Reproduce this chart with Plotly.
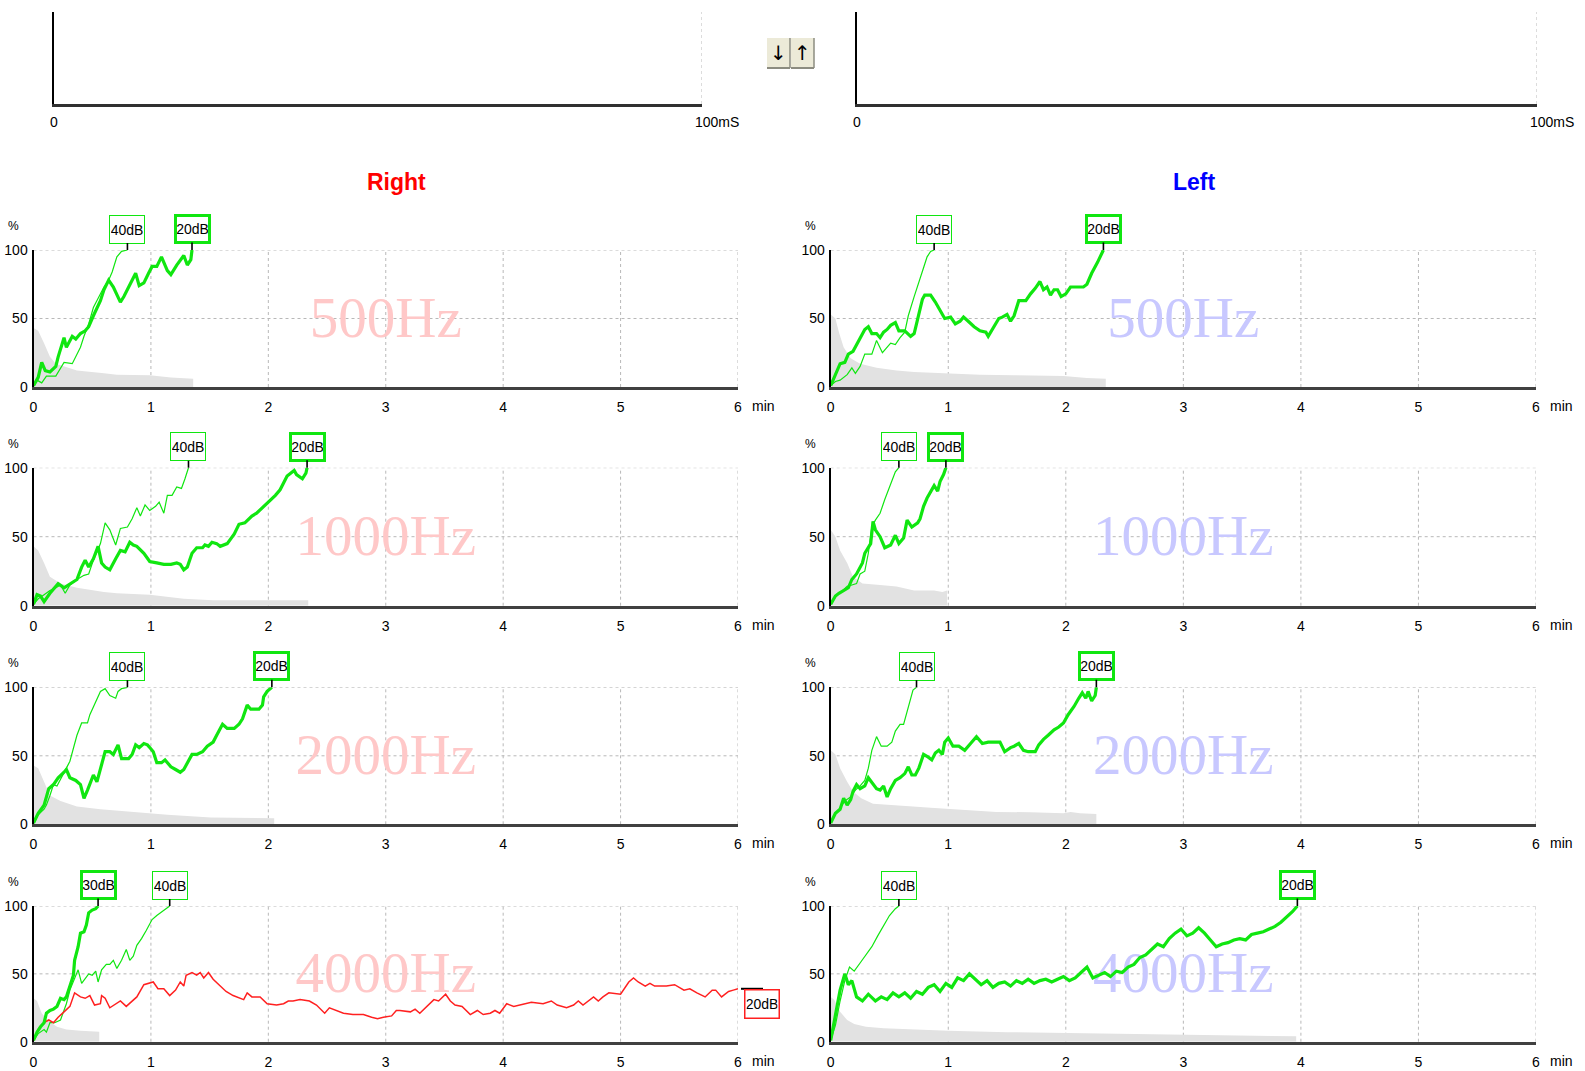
import plotly.graph_objects as go

W, H = 1585, 1071

# ---------------- axis ticks ----------------
X_TICKS = [0, 1, 2, 3, 4, 5, 6]
Y_TICKS = [0, 50, 100]

# ---------------- Right ear ----------------
R500_t20 = [0, 0.04, 0.07, 0.10, 0.14, 0.19, 0.21, 0.26, 0.28, 0.33, 0.36, 0.40, 0.44, 0.47, 0.51, 0.54, 0.57, 0.60, 0.64, 0.68,
            0.74, 0.77, 0.81, 0.87, 0.90, 0.94, 0.98, 1.01, 1.05, 1.09, 1.14, 1.17, 1.22, 1.28, 1.31, 1.34, 1.35]
R500_p20 = [1, 7, 18, 12, 11, 15, 22, 36, 29, 37, 35, 39, 41, 44, 52, 57, 63, 71, 78, 73,
            62, 66, 73, 83, 74, 76, 83, 88, 88, 95, 85, 82, 89, 96, 89, 93, 100]
R500_t40 = [0, 0.03, 0.07, 0.11, 0.19, 0.21, 0.26, 0.33, 0.36, 0.40, 0.43, 0.47, 0.51, 0.54, 0.57, 0.60, 0.64, 0.67, 0.71, 0.75, 0.80]
R500_p40 = [1, 5, 3, 8, 8, 11, 18, 17, 22, 29, 37, 46, 58, 63, 68, 73, 78, 84, 95, 99, 100]
R500_bg_t = [0, 0.04, 0.09, 0.14, 0.19, 0.26, 0.37, 0.60, 0.71, 0.99, 1.17, 1.36]
R500_bg_p = [43, 41, 32, 22, 17, 15, 12, 10, 9, 8.5, 7, 6]

R1000_t20 = [0, 0.03, 0.06, 0.09, 0.14, 0.21, 0.26, 0.31, 0.37, 0.41, 0.44, 0.47, 0.51, 0.55, 0.58, 0.61, 0.65, 0.70, 0.74, 0.78,
             0.82, 0.85, 0.88, 0.94, 0.99, 1.05, 1.11, 1.17, 1.22, 1.25, 1.28, 1.31, 1.35, 1.39, 1.44, 1.46, 1.49, 1.52, 1.56, 1.59,
             1.65, 1.71, 1.75, 1.80, 1.86, 1.90, 1.95, 1.97, 2.02, 2.06, 2.10, 2.13, 2.16, 2.19, 2.22, 2.24, 2.29, 2.32, 2.33]
R1000_p20 = [1, 8, 7, 3, 9, 16, 13, 16, 19, 28, 33, 28, 34, 43, 31, 28, 26, 34, 40, 39,
             46, 44, 43, 38, 32, 31, 30, 30, 31, 30, 26, 28, 38, 42, 42, 44, 43, 46, 45, 43,
             45, 52, 59, 60, 65, 67, 71, 73, 77, 80, 84, 89, 94, 96, 98, 95, 92, 96, 100]
R1000_t40 = [0, 0.04, 0.09, 0.14, 0.19, 0.23, 0.27, 0.31, 0.37, 0.43, 0.47, 0.51, 0.57, 0.61, 0.65, 0.70, 0.74, 0.80, 0.84, 0.88,
             0.91, 0.95, 0.99, 1.04, 1.07, 1.11, 1.14, 1.18, 1.22, 1.26, 1.29, 1.32]
R1000_p40 = [1, 5, 8, 11, 13, 15, 9, 15, 19, 22, 23, 33, 45, 60, 55, 44, 56, 57, 63, 71,
             65, 73, 69, 72, 75, 67, 80, 80, 86, 85, 92, 100]
R1000_bg_t = [0, 0.04, 0.09, 0.14, 0.23, 0.37, 0.60, 0.71, 0.99, 1.28, 1.53, 2.34]
R1000_bg_p = [43, 40, 31, 21, 16, 13, 10, 9, 8, 5, 4, 4]

R2000_t20 = [0, 0.04, 0.09, 0.13, 0.17, 0.21, 0.26, 0.28, 0.31, 0.36, 0.40, 0.43, 0.46, 0.48, 0.51, 0.54, 0.57, 0.61, 0.65, 0.68,
             0.72, 0.75, 0.81, 0.84, 0.87, 0.90, 0.94, 0.97, 0.99, 1.02, 1.05, 1.09, 1.12, 1.17, 1.21, 1.25, 1.28, 1.32, 1.35, 1.39,
             1.44, 1.48, 1.53, 1.56, 1.61, 1.65, 1.71, 1.75, 1.78, 1.82, 1.85, 1.92, 1.95, 1.96, 1.99, 2.03]
R2000_p20 = [1, 8, 14, 26, 29, 34, 38, 40, 34, 32, 29, 19, 25, 30, 36, 31, 41, 53, 53, 51,
             58, 48, 48, 51, 58, 56, 59, 58, 56, 53, 45, 45, 47, 42, 40, 38, 40, 46, 51, 51,
             53, 57, 60, 65, 73, 70, 70, 73, 77, 87, 84, 84, 87, 93, 97, 100]
R2000_t40 = [0, 0.04, 0.09, 0.11, 0.14, 0.17, 0.20, 0.24, 0.28, 0.31, 0.34, 0.37, 0.41, 0.46, 0.48, 0.53, 0.57, 0.61, 0.65, 0.70,
             0.72, 0.75, 0.80]
R2000_p40 = [1, 7, 11, 14, 21, 29, 28, 34, 41, 46, 56, 65, 74, 74, 80, 90, 97, 99, 94, 92, 97, 99, 100]
R2000_bg_t = [0, 0.04, 0.09, 0.14, 0.23, 0.37, 0.57, 0.85, 1.14, 1.51, 2.05]
R2000_bg_p = [43, 41, 31, 21, 17, 13, 11, 9, 7, 5, 4.4]

R4000_t30 = [0, 0.03, 0.06, 0.09, 0.11, 0.14, 0.17, 0.20, 0.23, 0.26, 0.28, 0.31, 0.34, 0.35, 0.38, 0.40, 0.43, 0.45, 0.47, 0.50,
             0.53, 0.55]
R4000_p30 = [1, 7, 11, 14, 21, 23, 24, 26, 32, 31, 33, 41, 49, 60, 70, 80, 81, 86, 95, 97, 98, 100]
R4000_t40 = [0, 0.04, 0.09, 0.11, 0.14, 0.18, 0.23, 0.26, 0.28, 0.31, 0.34, 0.38, 0.41, 0.44, 0.47, 0.50, 0.53, 0.55, 0.58, 0.62,
             0.65, 0.68, 0.71, 0.75, 0.79, 0.82, 0.85, 0.88, 0.92, 0.96, 1.01, 1.05, 1.11, 1.16]
R4000_p40 = [1, 6, 9, 7, 14, 14, 16, 23, 28, 38, 44, 53, 43, 47, 50, 49, 52, 44, 53, 57,
             57, 60, 54, 60, 68, 60, 63, 71, 76, 82, 90, 93, 97, 100]
R4000_t20 = [0, 0.04, 0.09, 0.13, 0.17, 0.21, 0.26, 0.31, 0.35, 0.40, 0.44, 0.48, 0.52, 0.57, 0.58, 0.61, 0.65, 0.70, 0.74, 0.79,
             0.84, 0.88, 0.94, 0.98, 1.02, 1.06, 1.11, 1.16, 1.21, 1.25, 1.28, 1.30, 1.35, 1.39, 1.42, 1.45, 1.49, 1.53, 1.59, 1.64,
             1.70, 1.73, 1.79, 1.82, 1.86, 1.93, 1.99, 2.07, 2.13, 2.17, 2.21, 2.27, 2.35, 2.41, 2.48, 2.52, 2.58, 2.64, 2.72, 2.81,
             2.88, 2.93, 2.98, 3.05, 3.09, 3.12, 3.21, 3.25, 3.29, 3.35, 3.41, 3.45, 3.51, 3.55, 3.59, 3.65, 3.72, 3.78, 3.83, 3.89,
             3.93, 3.97, 4.03, 4.09, 4.15, 4.24, 4.34, 4.41, 4.46, 4.54, 4.60, 4.64, 4.68, 4.77, 4.81, 4.85, 4.90, 5.00, 5.07, 5.11,
             5.15, 5.21, 5.25, 5.29, 5.39, 5.46, 5.54, 5.59, 5.65, 5.72, 5.78, 5.81, 5.86, 5.92, 5.96, 6.00]
R4000_p20 = [1, 9, 14, 16, 14, 18, 22, 26, 36, 33, 32, 34, 27, 28, 34, 32, 25, 28, 30, 26,
             30, 33, 42, 43, 44, 39, 39, 34, 38, 44, 41, 49, 51, 49, 51, 47, 51, 46, 41, 37,
             34, 33, 31, 36, 33, 33, 28, 27, 28, 30, 30, 31, 30, 27, 21, 25, 23, 21, 20, 20,
             18, 17, 18, 19, 23, 23, 22, 24, 21, 26, 31, 30, 35, 30, 27, 26, 20, 23, 20, 21,
             23, 21, 28, 26, 27, 29, 28, 30, 27, 25, 27, 30, 27, 33, 30, 33, 36, 35, 44, 47,
             44, 41, 43, 41, 41, 42, 38, 39, 36, 33, 38, 38, 33, 37, 38, 39]
R4000_bg_t = [0, 0.03, 0.07, 0.13, 0.20, 0.28, 0.40, 0.56]
R4000_bg_p = [32, 30, 21, 15, 11, 9, 8, 7.4]

# ---------------- Left ear ----------------
L500_t20 = [0, 0.04, 0.08, 0.12, 0.15, 0.19, 0.25, 0.29, 0.32, 0.35, 0.39, 0.42, 0.45, 0.48, 0.51, 0.55, 0.58, 0.63, 0.68, 0.71,
            0.73, 0.78, 0.80, 0.85, 0.89, 0.93, 0.97, 1.02, 1.06, 1.10, 1.13, 1.17, 1.22, 1.27, 1.32, 1.34, 1.39, 1.43, 1.46, 1.50,
            1.53, 1.56, 1.60, 1.66, 1.70, 1.74, 1.78, 1.81, 1.84, 1.87, 1.90, 1.93, 1.96, 2.00, 2.04, 2.15, 2.18, 2.22, 2.27, 2.30,
            2.32]
L500_p20 = [1, 9, 17, 18, 24, 26, 35, 42, 44, 39, 39, 36, 40, 42, 45, 47, 41, 41, 37, 39,
            46, 64, 67, 67, 62, 56, 50, 51, 46, 48, 51, 48, 44, 41, 40, 37, 44, 50, 51, 53,
            48, 52, 63, 63, 68, 72, 77, 71, 73, 67, 71, 71, 66, 68, 73, 73, 75, 83, 91, 96,
            100]
L500_t40 = [0, 0.04, 0.08, 0.14, 0.18, 0.21, 0.25, 0.29, 0.35, 0.39, 0.44, 0.48, 0.51, 0.55, 0.59, 0.63, 0.66, 0.71, 0.73, 0.76,
            0.79, 0.82, 0.85, 0.88]
L500_p40 = [1, 4, 5, 9, 14, 10, 15, 24, 24, 34, 25, 29, 32, 31, 36, 40, 52, 66, 71, 78, 87, 95, 99, 100]
L500_bg_t = [0, 0.04, 0.07, 0.11, 0.17, 0.25, 0.39, 0.56, 0.71, 0.99, 1.27, 1.56, 1.98, 2.18, 2.34]
L500_bg_p = [53, 50, 40, 29, 21, 17, 14, 12, 11, 10, 9, 8.6, 8, 6.6, 6]

L1000_t20 = [0, 0.04, 0.07, 0.11, 0.15, 0.18, 0.22, 0.27, 0.29, 0.34, 0.36, 0.38, 0.42, 0.46, 0.51, 0.55, 0.58, 0.62, 0.65, 0.69,
             0.74, 0.76, 0.79, 0.82, 0.85, 0.88, 0.91, 0.93, 0.96, 0.98]
L1000_p20 = [1, 7, 9, 11, 13, 19, 23, 31, 38, 45, 61, 55, 50, 42, 44, 51, 45, 49, 62, 57,
             60, 63, 72, 78, 83, 87, 83, 90, 95, 100]
L1000_t40 = [0, 0.05, 0.09, 0.14, 0.18, 0.22, 0.25, 0.29, 0.32, 0.35, 0.38, 0.42, 0.46, 0.51, 0.55, 0.58]
L1000_p40 = [1, 8, 10, 14, 15, 16, 23, 25, 38, 57, 62, 67, 77, 89, 97, 100]
L1000_bg_t = [0, 0.04, 0.08, 0.14, 0.19, 0.27, 0.42, 0.56, 0.71, 0.88, 0.95, 0.99]
L1000_bg_p = [55, 50, 40, 31, 21, 16, 15, 14, 11, 11, 10, 11]

L2000_t20 = [0, 0.04, 0.08, 0.11, 0.14, 0.17, 0.19, 0.22, 0.25, 0.29, 0.32, 0.36, 0.39, 0.42, 0.45, 0.48, 0.51, 0.55, 0.59, 0.63,
             0.66, 0.69, 0.72, 0.75, 0.79, 0.83, 0.86, 0.89, 0.92, 0.95, 0.97, 1.00, 1.04, 1.09, 1.14, 1.19, 1.24, 1.29, 1.34, 1.44,
             1.48, 1.53, 1.56, 1.60, 1.64, 1.68, 1.74, 1.77, 1.81, 1.85, 1.90, 1.94, 1.98, 2.02, 2.07, 2.11, 2.14, 2.17, 2.19, 2.22,
             2.25, 2.26]
L2000_p20 = [1, 8, 11, 19, 14, 18, 24, 29, 26, 28, 34, 29, 26, 25, 28, 20, 26, 32, 34, 37,
             42, 36, 36, 41, 51, 49, 47, 52, 54, 51, 60, 63, 57, 57, 54, 59, 64, 59, 60, 60,
             53, 56, 57, 59, 54, 53, 53, 58, 62, 65, 69, 71, 74, 80, 86, 92, 96, 92, 97, 90,
             94, 100]
L2000_t40 = [0, 0.04, 0.08, 0.12, 0.17, 0.21, 0.25, 0.29, 0.32, 0.35, 0.39, 0.43, 0.48, 0.52, 0.55, 0.59, 0.62, 0.65, 0.68, 0.70,
             0.73]
L2000_p40 = [1, 8, 12, 17, 20, 25, 28, 32, 41, 54, 64, 57, 57, 60, 68, 73, 73, 82, 91, 98, 100]
L2000_bg_t = [0, 0.04, 0.08, 0.14, 0.19, 0.26, 0.36, 0.56, 0.70, 0.85, 1.13, 1.41, 1.70, 1.98, 2.04, 2.12, 2.26]
L2000_bg_p = [54, 51, 41, 31, 24, 19, 15, 14, 13, 12, 10.5, 9, 8.8, 8, 9, 8, 7.5]

L4000_t20 = [0, 0.04, 0.08, 0.12, 0.15, 0.18, 0.22, 0.27, 0.32, 0.38, 0.43, 0.48, 0.53, 0.58, 0.63, 0.68, 0.73, 0.78, 0.83, 0.88,
             0.93, 0.98, 1.03, 1.08, 1.13, 1.18, 1.23, 1.28, 1.33, 1.38, 1.43, 1.48, 1.53, 1.58, 1.63, 1.68, 1.73, 1.78, 1.83, 1.88,
             1.93, 1.98, 2.03, 2.08, 2.13, 2.18, 2.23, 2.28, 2.33, 2.38, 2.43, 2.48, 2.53, 2.58, 2.63, 2.68, 2.73, 2.78, 2.83, 2.88,
             2.93, 2.98, 3.03, 3.08, 3.13, 3.18, 3.23, 3.28, 3.33, 3.38, 3.43, 3.48, 3.53, 3.58, 3.63, 3.68, 3.73, 3.78, 3.83, 3.88,
             3.93, 3.97]
L4000_p20 = [1, 20, 38, 50, 42, 45, 33, 30, 35, 30, 33, 31, 36, 33, 36, 32, 37, 35, 40, 42,
             37, 43, 40, 47, 45, 50, 46, 42, 45, 40, 43, 44, 41, 45, 43, 46, 43, 45, 46, 44,
             46, 48, 45, 47, 51, 55, 47, 49, 51, 48, 52, 51, 55, 57, 62, 64, 68, 72, 70, 76,
             80, 83, 78, 80, 84, 80, 75, 70, 72, 73, 75, 76, 75, 79, 80, 81, 83, 85, 88, 92,
             96, 100]
L4000_t40 = [0, 0.04, 0.08, 0.12, 0.16, 0.20, 0.25, 0.30, 0.35, 0.40, 0.45, 0.50, 0.55, 0.58]
L4000_p40 = [1, 12, 30, 45, 55, 52, 58, 64, 70, 78, 86, 93, 98, 100]
L4000_bg_t = [0, 0.03, 0.08, 0.14, 0.20, 0.30, 0.45, 0.70, 1.00, 1.50, 2.00, 2.50, 3.00, 3.50, 3.96]
L4000_bg_p = [33, 31, 22, 16, 13, 11, 10, 9, 8, 7, 6.5, 6, 5, 4.5, 4]

PANELS = [
    dict(row=0, col=0, name="500Hz", grey=(R500_bg_t, R500_bg_p),
         curves=[(R500_t40, R500_p40, "40dB", "thin"), (R500_t20, R500_p20, "20dB", "thick")]),
    dict(row=1, col=0, name="1000Hz", grey=(R1000_bg_t, R1000_bg_p),
         curves=[(R1000_t40, R1000_p40, "40dB", "thin"), (R1000_t20, R1000_p20, "20dB", "thick")]),
    dict(row=2, col=0, name="2000Hz", grey=(R2000_bg_t, R2000_bg_p),
         curves=[(R2000_t40, R2000_p40, "40dB", "thin"), (R2000_t20, R2000_p20, "20dB", "thick")]),
    dict(row=3, col=0, name="4000Hz", grey=(R4000_bg_t, R4000_bg_p),
         curves=[(R4000_t40, R4000_p40, "40dB", "thin"), (R4000_t20, R4000_p20, "20dB", "red"),
                 (R4000_t30, R4000_p30, "30dB", "thick")]),
    dict(row=0, col=1, name="500Hz", grey=(L500_bg_t, L500_bg_p),
         curves=[(L500_t40, L500_p40, "40dB", "thin"), (L500_t20, L500_p20, "20dB", "thick")]),
    dict(row=1, col=1, name="1000Hz", grey=(L1000_bg_t, L1000_bg_p),
         curves=[(L1000_t40, L1000_p40, "40dB", "thin"), (L1000_t20, L1000_p20, "20dB", "thick")]),
    dict(row=2, col=1, name="2000Hz", grey=(L2000_bg_t, L2000_bg_p),
         curves=[(L2000_t40, L2000_p40, "40dB", "thin"), (L2000_t20, L2000_p20, "20dB", "thick")]),
    dict(row=3, col=1, name="4000Hz", grey=(L4000_bg_t, L4000_bg_p),
         curves=[(L4000_t40, L4000_p40, "40dB", "thin"), (L4000_t20, L4000_p20, "20dB", "thick")]),
]

# ---------------- page geometry (pixels) ----------------
COL_X = [(33.5, 738.0), (830.7, 1536.0)]
ROW_Y = [(250.0, 387.0), (467.7, 605.7), (687.3, 824.3), (906.0, 1041.7)]
TOP_X = [(54.0, 702.0), (857.0, 1537.0)]
TOP_Y = (12.0, 104.0)

GREEN = "#10e610"
RED = "#ff2020"
GREY_FILL = "#e2e2e2"
GRID = "#b8b8b8"
WATERMARK = ["#ffc8c8", "#c8c8ff"]
SANS = "Liberation Sans, Arial, sans-serif"
SERIF = "Liberation Serif, Times New Roman, serif"
TICK_FONT = dict(family=SANS, size=14, color="black")
LABEL_FONT = dict(family=SANS, size=14, color="black")


def xdom(a, b):
    return [a / W, b / W]


def ydom(top, bottom):
    return [1 - bottom / H, 1 - top / H]


def sfx(k):
    return "" if k == 1 else str(k)


def note(**kw):
    base = dict(showarrow=False, xanchor="center", yanchor="middle")
    base.update(kw)
    return base


fig = go.Figure()
layout_axes = {}
shapes = []
annotations = []

for k, pnl in enumerate(PANELS, start=1):
    s = sfx(k)
    xr, yr = "x" + s, "y" + s
    r, c = pnl["row"], pnl["col"]
    layout_axes["xaxis" + s] = dict(
        domain=xdom(*COL_X[c]), anchor=yr, range=[0, 6], tickmode="array", tickvals=X_TICKS,
        ticktext=[str(v) for v in X_TICKS], showgrid=False, zeroline=False, showline=True,
        linecolor="#404040", linewidth=3, ticks="", ticklabelstandoff=5, tickfont=TICK_FONT,
        automargin=False, fixedrange=True)
    layout_axes["yaxis" + s] = dict(
        domain=ydom(*ROW_Y[r]), anchor=xr, range=[0, 100], tickmode="array", tickvals=Y_TICKS,
        ticktext=[str(v) for v in Y_TICKS], showgrid=False, zeroline=False, showline=True,
        linecolor="black", linewidth=2, ticks="", ticklabelstandoff=1, tickfont=TICK_FONT,
        automargin=False, fixedrange=True)

    # dotted grid
    for xv in X_TICKS[1:]:
        shapes.append(dict(type="line", layer="below", xref=xr, yref=yr + " domain", x0=xv, x1=xv, y0=0, y1=1,
                           line=dict(color=GRID, width=1, dash="dot")))
    for yv in Y_TICKS[1:]:
        shapes.append(dict(type="line", layer="below", xref=xr + " domain", yref=yr, x0=0, x1=1, y0=yv, y1=yv,
                           line=dict(color=GRID, width=1, dash="dot")))

    # grey background distribution
    gt, gp = pnl["grey"]
    fig.add_trace(go.Scatter(x=gt, y=gp, xaxis=xr, yaxis=yr, mode="lines", fill="tozeroy",
                             fillcolor=GREY_FILL, line=dict(width=0, color=GREY_FILL), hoverinfo="skip"))

    # frequency watermark
    fig.add_trace(go.Scatter(x=[3], y=[47], xaxis=xr, yaxis=yr, mode="text", text=[pnl["name"]],
                             textposition="middle center", cliponaxis=False,
                             textfont=dict(family=SERIF, size=57, color=WATERMARK[c]), hoverinfo="skip"))

    for t, p, label, style in pnl["curves"]:
        if style == "red":
            fig.add_trace(go.Scatter(x=t, y=p, xaxis=xr, yaxis=yr, mode="lines",
                                     line=dict(color=RED, width=1.5), hoverinfo="skip"))
            # label hanging off the right end of the trace
            x_end = COL_X[c][1]
            dom = ydom(*ROW_Y[r])
            y_end = dom[0] + (dom[1] - dom[0]) * p[-1] / 100.0
            shapes.append(dict(type="line", xref="paper", yref="paper", x0=(x_end + 3) / W, x1=(x_end + 25) / W,
                               y0=y_end, y1=y_end, line=dict(color="black", width=2)))
            annotations.append(note(xref=xr, yref=yr, x=t[-1], y=p[-1], text=label,
                                    xanchor="left", yanchor="top", xshift=6, yshift=0,
                                    font=LABEL_FONT, bgcolor="white", bordercolor=RED, borderwidth=1.5,
                                    borderpad=1, width=31, height=25))
        else:
            thick = style == "thick"
            fig.add_trace(go.Scatter(x=t, y=p, xaxis=xr, yaxis=yr, mode="lines",
                                     line=dict(color=GREEN, width=3.2 if thick else 1.2), hoverinfo="skip"))
            annotations.append(dict(xref=xr, yref=yr, x=t[-1], y=p[-1], text=label, showarrow=True,
                                    arrowhead=0, arrowwidth=1.6, arrowcolor="black", ax=0, ay=-21,
                                    font=LABEL_FONT, bgcolor="white", bordercolor=GREEN,
                                    borderwidth=3 if thick else 1, borderpad=0 if thick else 1,
                                    width=31 if thick else 32, height=24 if thick else 25))

    # axis captions
    annotations.append(note(xref=xr + " domain", yref=yr + " domain", x=1, y=0, xshift=25, yshift=-19,
                            text="min", font=LABEL_FONT))
    annotations.append(note(xref=xr + " domain", yref=yr + " domain", x=0, y=1, xshift=-20, yshift=24,
                            text="%", font=dict(family=SANS, size=12, color="black")))

# ---------------- top waveform panels ----------------
for j, k in enumerate([9, 10]):
    s = str(k)
    xr, yr = "x" + s, "y" + s
    layout_axes["xaxis" + s] = dict(domain=xdom(*TOP_X[j]), anchor=yr, range=[0, 100], showgrid=False,
                                    zeroline=False, showline=True, linecolor="#303030", linewidth=3,
                                    showticklabels=False, ticks="", automargin=False, fixedrange=True)
    layout_axes["yaxis" + s] = dict(domain=ydom(*TOP_Y), anchor=xr, range=[0, 1], showgrid=False,
                                    zeroline=False, showline=True, linecolor="black", linewidth=2,
                                    showticklabels=False, ticks="", automargin=False, fixedrange=True)
    shapes.append(dict(type="line", xref=xr, yref=yr + " domain", x0=100, x1=100, y0=0, y1=1,
                       line=dict(color=GRID, width=1, dash="dot")))
    annotations.append(note(xref=xr, yref=yr + " domain", x=0, y=0, yshift=-18, text="0", font=LABEL_FONT))
    annotations.append(note(xref=xr, yref=yr + " domain", x=100, y=0, yshift=-18, xshift=-9, xanchor="left",
                            text="100mS", font=LABEL_FONT))

# ---------------- ear titles ----------------
annotations.append(note(xref="paper", yref="paper", x=397 / W, y=1 - 182 / H, text="Right",
                        font=dict(family=SANS, size=23, color="#ff0000", weight="bold")))
annotations.append(note(xref="paper", yref="paper", x=1194 / W, y=1 - 182 / H, text="Left",
                        font=dict(family=SANS, size=23, color="#0000ff", weight="bold")))

# ---------------- scroll buttons ----------------
BUTTONS = [((767, 790), "↓"), ((791, 814), "↑")]
for (bx0, bx1), glyph in BUTTONS:
    shapes.append(dict(type="rect", xref="paper", yref="paper", x0=bx0 / W, x1=bx1 / W,
                       y0=1 - 68 / H, y1=1 - 38 / H, fillcolor="#ecead8", line=dict(width=0)))
    shapes.append(dict(type="line", xref="paper", yref="paper", x0=bx0 / W, x1=bx1 / W,
                       y0=1 - 68 / H, y1=1 - 68 / H, line=dict(color="#8c8c80", width=2)))
    shapes.append(dict(type="line", xref="paper", yref="paper", x0=bx1 / W, x1=bx1 / W,
                       y0=1 - 68 / H, y1=1 - 38 / H, line=dict(color="#8c8c80", width=1.5)))
    annotations.append(note(xref="paper", yref="paper", x=(bx0 + bx1) / 2 / W, y=1 - 53 / H, text=glyph,
                            font=dict(family="DejaVu Sans", size=20, color="black")))

fig.update_layout(
    width=W, height=H, autosize=False,
    margin=dict(l=0, r=0, t=0, b=0, pad=0, autoexpand=False),
    paper_bgcolor="white", plot_bgcolor="white", showlegend=False,
    shapes=shapes, annotations=annotations, **layout_axes)

fig.write_html("out.html", config={"displayModeBar": False, "responsive": False})
